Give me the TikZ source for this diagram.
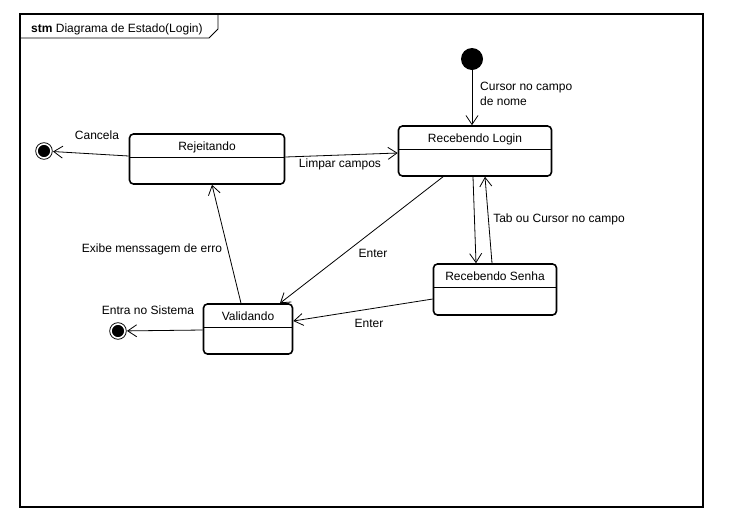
\documentclass[tikz,border=0pt]{standalone}
\usepackage{fontspec}
\setmainfont{Liberation Sans}
\usetikzlibrary{arrows.meta,positioning}

\begin{document}
\begin{tikzpicture}[x=1pt,y=-1pt,
    every node/.style={font=\fontsize{12}{15}\selectfont},
    estado/.style={draw,line width=1.6pt,rounded corners=4pt,minimum height=50pt,inner sep=0pt,
      path picture={\draw[line width=0.8pt] ([yshift=-23pt]path picture bounding box.north west)
        -- ([yshift=-23pt]path picture bounding box.north east);}},
    nome/.style={label={[anchor=base,yshift=-17.5pt]north:#1}},
    inicio/.style={circle,fill=black,minimum size=22pt,inner sep=0pt},
    fim/.style={circle,fill=black,draw=black,double=white,double distance=1.6pt,
      line width=0.9pt,minimum size=14pt,inner sep=0pt,outer sep=2pt},
    trans/.style={line width=0.8pt,-{Straight Barb[length=9pt,width=12pt,line width=0.8pt]}},
    rotulo/.style={anchor=base}]
    \useasboundingbox (0,0) rectangle (730,515);

    % frame
    \draw[line width=1.2pt] (20,14) rectangle (703,507);
    \draw[line width=0.9pt] (20,38) -- (209,38) -- (218,29) -- (218,14);
    \node[anchor=base west,inner sep=0pt] (titulo) at (31,32) {\textbf{stm} Diagrama de Estado(Login)};

    % states
    \node[inicio] (inicial) at (472,59) {};
    \node[estado,minimum width=155pt,nome=Rejeitando] (rejeitando) at (207,159) {};
    \node[estado,minimum width=153pt,nome=Recebendo Login] (login) at (475,151) {};
    \node[estado,minimum width=123pt,minimum height=51pt,nome=Recebendo Senha] (senha) at (495,289.5) {};
    \node[estado,minimum width=89pt,nome=Validando] (validando) at (248,329) {};
    \node[fim] (fim1) at (44,151) {};
    \node[fim] (fim2) at (118,331) {};

    % transitions
    \draw[trans] (inicial) -- (inicial |- login.north);
    \draw[trans] ([yshift=3pt]rejeitando.west) -- (fim1);
    \draw[trans] ([yshift=2pt]rejeitando.east) -- ([yshift=-2pt]login.west);
    \draw[trans] ([xshift=-32pt]login.south) -- ([xshift=32pt]validando.north);
    \draw[trans] ([xshift=-2pt]login.south) -- ([xshift=-19pt]senha.north);
    \draw[trans] ([xshift=-3pt]senha.north) -- ([xshift=10pt]login.south);
    \draw[trans] ([yshift=-9.5pt]senha.west) -- ([yshift=8pt]validando.east);
    \draw[trans] ([xshift=-7pt]validando.north) -- ([xshift=5pt]rejeitando.south);
    \draw[trans] ([yshift=-1pt]validando.west) -- (fim2);

    % labels
    \node[anchor=base west,align=left,inner sep=0pt] (lCursor) at (480,105) {Cursor no campo\\de nome};
    \node[rotulo] (lCancela) at (97,139) {Cancela};
    \node[rotulo] (lLimpar) at (340,167) {Limpar campos};
    \node[rotulo] (lEnter1) at (373,257) {Enter};
    \node[rotulo] (lEnter2) at (369,327) {Enter};
    \node[rotulo] (lTab) at (559,222) {Tab ou Cursor no campo};
    \node[rotulo] (lErro) at (152,252) {Exibe menssagem de erro};
    \node[rotulo] (lEntra) at (148,314) {Entra no Sistema};
\end{tikzpicture}
\end{document}
